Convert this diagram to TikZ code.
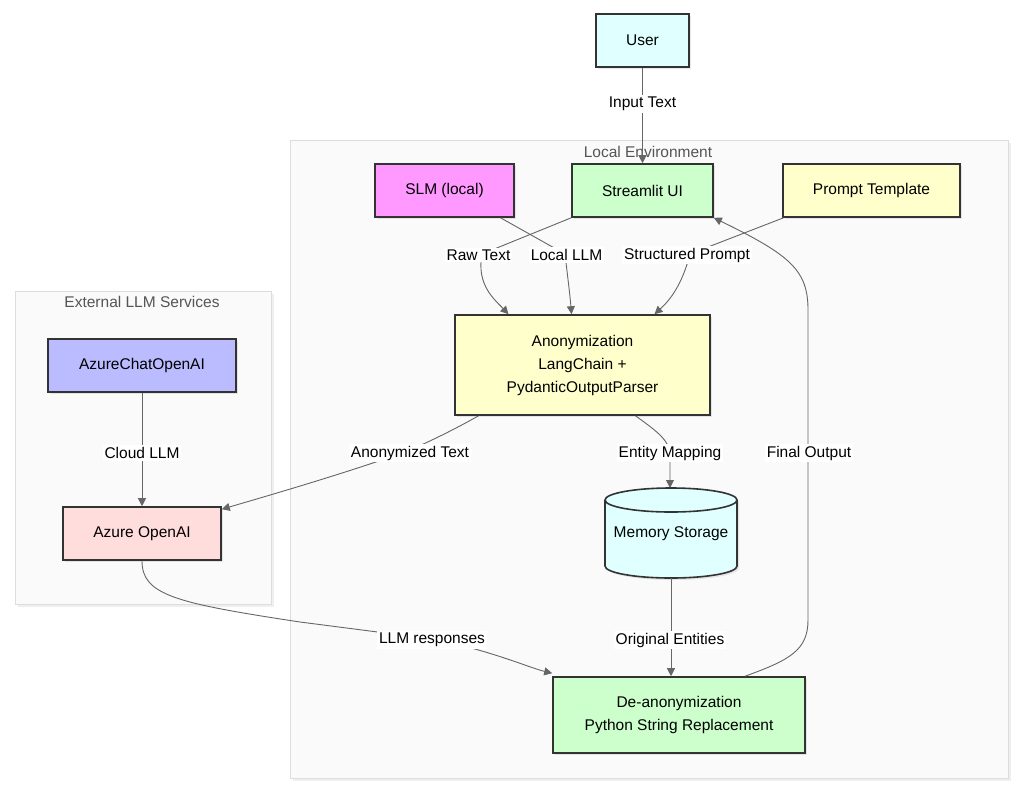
\documentclass[tikz,border=0pt]{standalone}
\usepackage{fontspec}
\setmainfont{Liberation Sans}
\usetikzlibrary{arrows.meta,shadows}
\definecolor{cCyan}{HTML}{E0FFFF}
\definecolor{cPink}{HTML}{FF99FF}
\definecolor{cGreen}{HTML}{CCFFCC}
\definecolor{cYellow}{HTML}{FFFFCC}
\definecolor{cBlue}{HTML}{BBBBFF}
\definecolor{cRose}{HTML}{FFDDDD}
\definecolor{cClusterFill}{HTML}{FAFAFA}
\definecolor{cClusterLine}{HTML}{DDDDDD}
\definecolor{cEdge}{HTML}{666666}
\definecolor{cBorder}{HTML}{333333}
\definecolor{cTitle}{HTML}{555555}
\tikzset{
  box/.style={draw=cBorder, line width=1.6pt, inner sep=0pt, align=center,
    drop shadow={opacity=0.18, shadow xshift=2pt, shadow yshift=-2pt}},
  cluster/.style={draw=cClusterLine, fill=cClusterFill, line width=1pt, inner sep=0pt,
    drop shadow={opacity=0.12, shadow xshift=2pt, shadow yshift=-2pt}},
  ctitle/.style={text=cTitle, inner sep=1pt},
  edge/.style={draw=cEdge, line width=0.9pt, -{Triangle[length=8pt,width=8pt]}},
  lbl/.style={fill=white, inner sep=2pt, text=black},
}
\begin{document}
\begin{tikzpicture}[x=1pt,y=-1pt, font=\fontsize{15.5}{23}\selectfont]
\path[use as bounding box, fill=white] (0,0) rectangle (1024,795);
% clusters
\node[cluster, anchor=north west, minimum width=718pt, minimum height=638pt] (local) at (290,140) {};
\node[ctitle] (localtitle) at (648,152) {Local Environment};
\node[cluster, anchor=north west, minimum width=256pt, minimum height=313pt] (external) at (15,291) {};
\node[ctitle] (exttitle) at (142,302) {External LLM Services};
% nodes
\node[box, fill=cCyan, minimum width=93pt, minimum height=53pt] (user) at (642.5,40.5) {User};
\node[box, fill=cGreen, minimum width=141pt, minimum height=53pt] (stream) at (642.5,190.5) {Streamlit UI};
\node[box, fill=cPink, minimum width=139pt, minimum height=53pt] (slm) at (444.5,190.5) {SLM (local)};
\node[box, fill=cYellow, minimum width=177pt, minimum height=53pt] (prompt) at (871.5,190.5) {Prompt Template};
\node[box, fill=cYellow, minimum width=255pt, minimum height=100pt] (anon) at (582.5,365) {Anonymization\\LangChain +\\PydanticOutputParser};
\node[box, fill=cBlue, minimum width=188pt, minimum height=53pt] (azchat) at (142,365.5) {AzureChatOpenAI};
\node[box, fill=cRose, minimum width=158pt, minimum height=53pt] (azure) at (142,533.5) {Azure OpenAI};
\node[box, fill=cGreen, minimum width=252pt, minimum height=76pt] (deanon) at (679,715) {De-anonymization\\Python String Replacement};
% memory cylinder
\node[minimum width=132pt, minimum height=90pt, inner sep=0pt] (mem) at (671,533) {};
\path[draw=cBorder, line width=1.6pt, fill=cCyan,
  drop shadow={opacity=0.18, shadow xshift=2pt, shadow yshift=-2pt}]
  (605,500) arc[start angle=180, end angle=0, x radius=66pt, y radius=12pt]
  -- (737,566) arc[start angle=0, end angle=-180, x radius=66pt, y radius=12pt] -- cycle;
\draw[cBorder, line width=1.6pt] (605,500) arc[start angle=180, end angle=360, x radius=66pt, y radius=12pt];
\node[inner sep=0pt] (memtext) at (671,534) {Memory Storage};
% edges
\draw[edge] (user) -- (stream);
\node[lbl] (lInput) at (642.5,104) {Input Text};

\draw[edge] (stream.south west) -- (482,254) .. controls (476,285) and (495,300) .. ([xshift=-74pt]anon.north);
\draw[edge] ([xshift=56pt]slm.south) -- (565,254) .. controls (568,280) and (570,295) .. ([xshift=-11pt]anon.north);
\draw[edge] ([xshift=-88pt]prompt.south) -- (690,254) .. controls (682,285) and (670,300) .. ([xshift=72pt]anon.north);
\node[lbl] (lRaw) at (478.5,255) {Raw Text};
\node[lbl] (lLocal) at (566.5,255) {Local LLM};
\node[lbl] (lStruct) at (687,255) {Structured Prompt};

\draw[edge] ([xshift=-104pt]anon.south) .. controls (450,432) and (420,446) .. (405,452) .. controls (340,475) and (260,498) .. ([yshift=-3pt]azure.north east);
\node[lbl] (lAnon) at (410,453) {Anonymized Text};

\draw[edge] ([xshift=53pt]anon.south) .. controls (655,430) and (670,440) .. (670,455) -- (670,488);
\node[lbl] (lEntity) at (670,453) {Entity Mapping};

\draw[edge] (azchat) -- (azure);
\node[lbl] (lCloud) at (142,453) {Cloud LLM};

\draw[edge] (azure.south) .. controls (142,595) and (175,603) .. (300,622) -- (432,639) .. controls (490,650) and (530,668) .. ([yshift=3pt]deanon.north west);
\node[lbl] (lLLM) at (432,640) {LLM responses};

\draw[edge] (mem.south) -- (deanon.north -| mem.south);
\node[lbl] (lOrig) at (670,640) {Original Entities};

\draw[edge] ([xshift=66pt]deanon.north) .. controls (790,660) and (808,650) .. (808,620) -- (808,310) .. controls (808,270) and (790,255) .. (stream.south east);
\node[lbl] (lFinal) at (809,453) {Final Output};
\end{tikzpicture}
\end{document}
